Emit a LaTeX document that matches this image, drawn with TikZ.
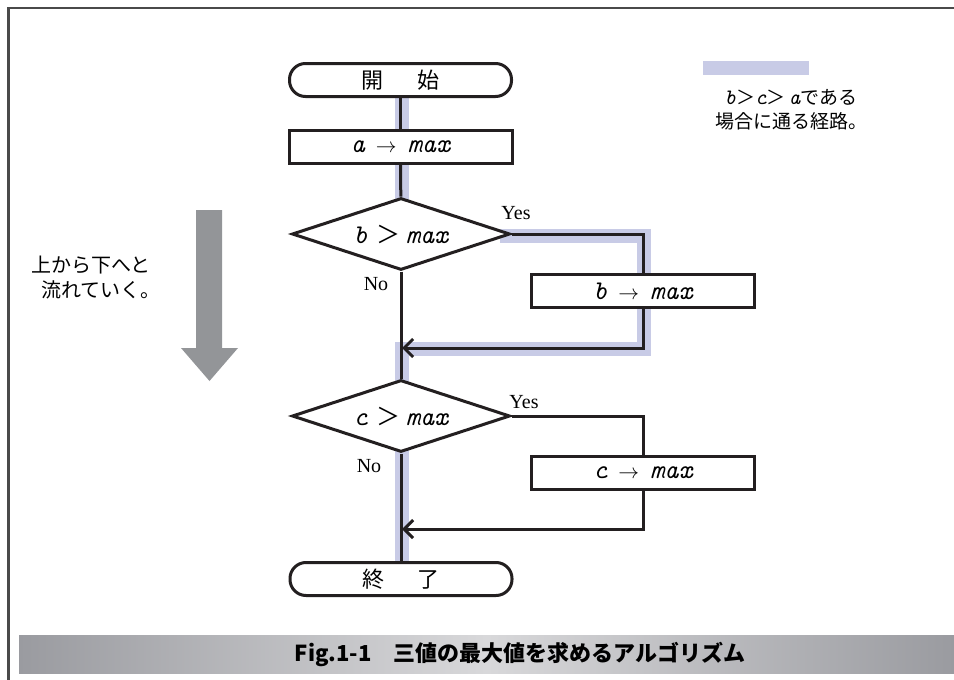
\documentclass[tikz,border=0pt]{standalone}
\usepackage{fontspec}
\setmainfont{Liberation Serif}
\newfontfamily\jp[BoldFont={Noto Sans CJK JP Bold}]{Noto Sans CJK JP}
\newfontfamily\jpblack{Noto Sans CJK JP Black}
\usetikzlibrary{shapes.geometric,arrows.meta}
\newcommand{\vv}[1]{{\ttfamily\itshape #1}}
\newcommand{\gapx}{\hspace{11pt}}
\definecolor{ink}{HTML}{231F20}
\definecolor{hlc}{HTML}{C8CBE6}
\definecolor{arrowgray}{HTML}{939598}
\definecolor{framec}{HTML}{4A4A4A}
\definecolor{capd}{HTML}{9A9BA0}
\definecolor{capl}{HTML}{D8D8DA}
\begin{document}
\begin{tikzpicture}[x=1pt,y=-1pt,
  conn/.style={line width=3pt, draw=ink},
  term/.style={draw=ink, line width=3pt, rounded corners=16pt, fill=white, minimum width=222pt, minimum height=33pt, inner sep=0pt, font=\jp\fontsize{22}{24}\selectfont},
  proc/.style={draw=ink, line width=3pt, fill=white, minimum width=223pt, minimum height=33pt, inner sep=0pt, font=\fontsize{27}{28}\selectfont},
  dec/.style={diamond, aspect=3, draw=ink, line width=3pt, fill=white, minimum width=218pt, minimum height=72pt, inner sep=0pt, font=\fontsize{27}{28}\selectfont},
  hl/.style={line width=14pt, draw=hlc},
  lab/.style={font=\fontsize{20}{22}\selectfont, inner sep=0pt},
  flow/.style={conn, -{Straight Barb[length=9pt,width=18pt,line width=3pt]}}
]
\useasboundingbox (0,0) rectangle (954,680);
% frame
\draw[framec, line width=2.5pt] (8.5,680) -- (8.5,8) -- (954,8);
% highlight path
\draw[hl] (402,90) -- (402,205);
\draw[hl, line join=miter] (500,236) -- (644,236) -- (644,349) -- (402,349) -- (402,385);
\draw[hl] (402,445) -- (402,568);
% nodes
\node[term] (start) at (400.5,80) {開\hspace{34pt}始};
\node[proc] (a1) at (400.5,147) {\vv{a}\gapx{\fontsize{22}{24}\selectfont$\rightarrow$}\gapx\vv{max}};
\node[dec] (d1) at (401,234) {\vv{b}\hspace{9pt}{\jp\fontsize{24}{26}\selectfont ＞}\hspace{5pt}\vv{max}};
\node[proc] (b1) at (643,291) {\vv{b}\gapx{\fontsize{22}{24}\selectfont$\rightarrow$}\gapx\vv{max}};
\node[dec] (d2) at (401,416) {\vv{c}\hspace{9pt}{\jp\fontsize{24}{26}\selectfont ＞}\hspace{5pt}\vv{max}};
\node[proc] (c1) at (643,473) {\vv{c}\gapx{\fontsize{22}{24}\selectfont$\rightarrow$}\gapx\vv{max}};
\node[term] (end) at (401,579) {終\hspace{34pt}了};
\coordinate (j1) at (402,348);
\coordinate (j2) at (402,529);
% connectors
\draw[conn] (start) -- (a1);
\draw[conn] (a1) -- (d1);
\draw[conn] (d1.east) -| (b1.north);
\draw[flow] (b1.south) |- (j1);
\draw[conn] (d1.south) -- (d2.north);
\draw[conn] (d2.east) -| (c1.north);
\draw[flow] (c1.south) |- (j2);
\draw[conn] (d2.south) -- (end.north);
% labels
\node[lab] (y1) at (516,213) {Yes};
\node[lab] (n1) at (376,284) {No};
\node[lab] (y2) at (524,402) {Yes};
\node[lab] (n2) at (369,466) {No};
% legend
\fill[hlc] (703,61) rectangle (809,75);
\node[align=center, inner sep=0pt, font=\jp\fontsize{19}{24}\selectfont] (leg) at (791,110) {{\fontsize{22}{24}\selectfont\vv{b}}＞{\fontsize{22}{24}\selectfont\vv{c}}＞\,{\fontsize{22}{24}\selectfont\vv{a}}である\\場合に通る経路。};
% left flow note
\node[anchor=west, inner sep=0pt, font=\jp\fontsize{20}{24}\selectfont] (t1) at (31,265) {上から下へと};
\node[anchor=west, inner sep=0pt, font=\jp\fontsize{20}{24}\selectfont] (t2) at (41,290) {流れていく。};
\fill[arrowgray] (196,210) -- (222,210) -- (222,348) -- (238,348) -- (209.5,381) -- (181,348) -- (196,348) -- cycle;
% caption
\shade[left color=capd, right color=capd, middle color=capl] (19,635) rectangle (954,673);
\node[inner sep=0pt, font=\jpblack\fontsize{22}{24}\selectfont] (cap) at (520,654) {Fig.1-1\hspace{1em}三値の最大値を求めるアルゴリズム};
\end{tikzpicture}
\end{document}
